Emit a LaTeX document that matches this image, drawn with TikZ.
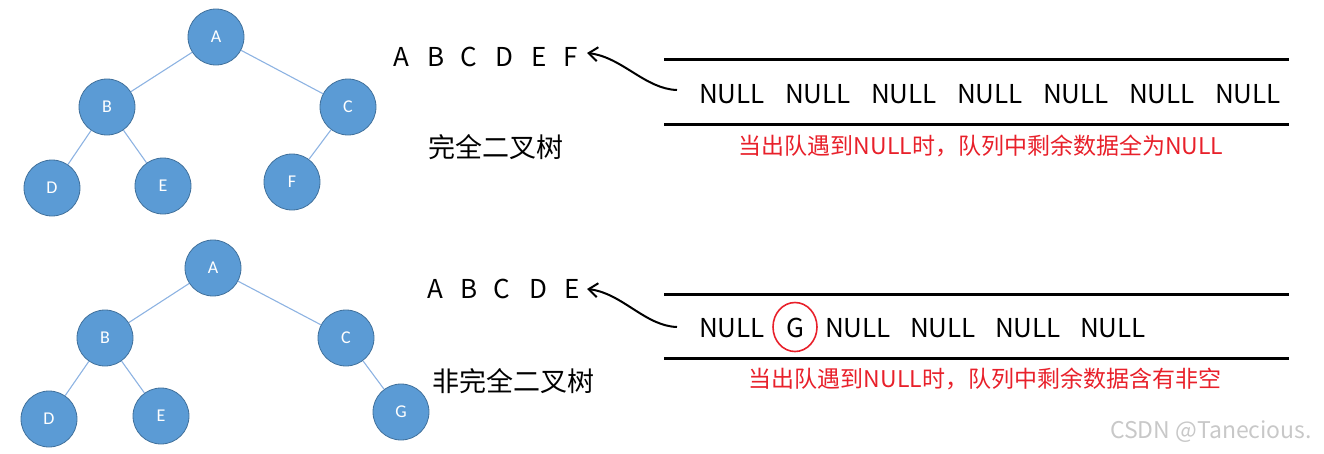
\documentclass[tikz,border=0pt]{standalone}
\usepackage{fontspec}
\setmainfont{Noto Sans CJK SC}
\newfontfamily\carlito{Carlito}
\usetikzlibrary{arrows.meta,shapes.geometric}
\definecolor{nodefill}{RGB}{91,155,213}
\definecolor{nodeborder}{RGB}{65,113,156}
\definecolor{edgeblue}{RGB}{141,179,226}
\definecolor{redtxt}{RGB}{232,32,42}
\definecolor{wm}{RGB}{200,200,200}
\tikzset{
  tnode/.style={circle, fill=nodefill, draw=nodeborder, line width=0.8pt, minimum size=56pt, inner sep=0pt,
    text=white, font=\carlito\fontsize{18}{21}\selectfont},
  tedge/.style={draw=edgeblue, line width=1.1pt},
  seqletter/.style={inner sep=0pt, font=\fontsize{26}{30}\selectfont},
  nullword/.style={inner sep=0pt, font=\fontsize{26}{30}\selectfont},
  qline/.style={line width=3pt, line cap=butt},
  redlabel/.style={inner sep=0pt, text=redtxt, font=\fontsize{23}{27}\selectfont},
  treelabel/.style={inner sep=0pt, font=\fontsize{27}{31}\selectfont},
  curvearrow/.style={line width=2pt, -{Straight Barb[length=9pt,width=14pt,line width=2pt]}},
}
\begin{document}
\begin{tikzpicture}[x=1pt,y=-1pt]
\useasboundingbox (0,0) rectangle (1324,453);
% ---- top tree
\node[tnode] (tA) at (216,37) {A};
\node[tnode] (tB) at (107,107) {B};
\node[tnode] (tC) at (348,107) {C};
\node[tnode] (tD) at (52,188) {D};
\node[tnode] (tE) at (163,186) {E};
\node[tnode] (tF) at (292,182) {F};
\draw[tedge] (tA) -- (tB);
\draw[tedge] (tA) -- (tC);
\draw[tedge] (tB) -- (tD);
\draw[tedge] (tB) -- (tE);
\draw[tedge] (tC) -- (tF);
% ---- bottom tree
\node[tnode] (bA) at (213,268) {A};
\node[tnode] (bB) at (105,338) {B};
\node[tnode] (bC) at (346,338) {C};
\node[tnode] (bD) at (49,419) {D};
\node[tnode] (bE) at (161,416) {E};
\node[tnode] (bG) at (401,412) {G};
\draw[tedge] (bA) -- (bB);
\draw[tedge] (bA) -- (bC);
\draw[tedge] (bB) -- (bD);
\draw[tedge] (bB) -- (bE);
\draw[tedge] (bC) -- (bG);
% ---- tree labels
\node[treelabel] (lab1) at (496,147) {完全二叉树};
\node[treelabel] (lab2) at (513,381) {非完全二叉树};
% ---- top sequence
\node[seqletter] (s1) at (401.5,56.5) {A};
\node[seqletter] (s2) at (436,56.5) {B};
\node[seqletter] (s3) at (469,56.5) {C};
\node[seqletter] (s4) at (504.5,56.5) {D};
\node[seqletter] (s5) at (539.5,56.5) {E};
\node[seqletter] (s6) at (571,56.5) {F};
% ---- bottom sequence
\node[seqletter] (r1) at (435,289) {A};
\node[seqletter] (r2) at (469,289) {B};
\node[seqletter] (r3) at (502,289) {C};
\node[seqletter] (r4) at (538,289) {D};
\node[seqletter] (r5) at (572,289) {E};
% ---- top queue
\coordinate (q1l1) at (664,59);
\coordinate (q1r1) at (1289,59);
\coordinate (q1l2) at (664,124);
\coordinate (q1r2) at (1289,124);
\draw[qline] (q1l1) -- (q1r1);
\draw[qline] (q1l2) -- (q1r2);
\foreach \i/\x in {1/732,2/818,3/904,4/990,5/1076,6/1162,7/1248}
  \node[nullword] (n\i) at (\x,94) {NULL};
\node[redlabel] (red1) at (981,146) {当出队遇到NULL时，队列中剩余数据全为NULL};
\coordinate (a1s) at (677,90);
\coordinate (a1e) at (587,53);
\draw[curvearrow] (a1s) .. controls (645,89) and (622,57) .. (a1e);
% ---- bottom queue
\coordinate (q2l1) at (664,294);
\coordinate (q2r1) at (1289,294);
\coordinate (q2l2) at (664,358);
\coordinate (q2r2) at (1289,358);
\draw[qline] (q2l1) -- (q2r1);
\draw[qline] (q2l2) -- (q2r2);
\node[nullword] (m1) at (732,328) {NULL};
\node[nullword] (mg) at (795,328) {G};
\node[ellipse, draw=redtxt, line width=1.6pt, minimum width=44pt, minimum height=49pt, inner sep=0pt] (ring) at (795,327) {};
\node[nullword] (m2) at (858,328) {NULL};
\node[nullword] (m3) at (943,328) {NULL};
\node[nullword] (m4) at (1028,328) {NULL};
\node[nullword] (m5) at (1113,328) {NULL};
\node[redlabel] (red2) at (985,379) {当出队遇到NULL时，队列中剩余数据含有非空};
\coordinate (a2s) at (677,327);
\coordinate (a2e) at (587,289);
\draw[curvearrow] (a2s) .. controls (645,326) and (622,293) .. (a2e);
% ---- watermark
\node[inner sep=0pt, text=wm, font=\fontsize{23}{26}\selectfont] (wmark) at (1211,432) {CSDN @Tanecious.};
\end{tikzpicture}
\end{document}
